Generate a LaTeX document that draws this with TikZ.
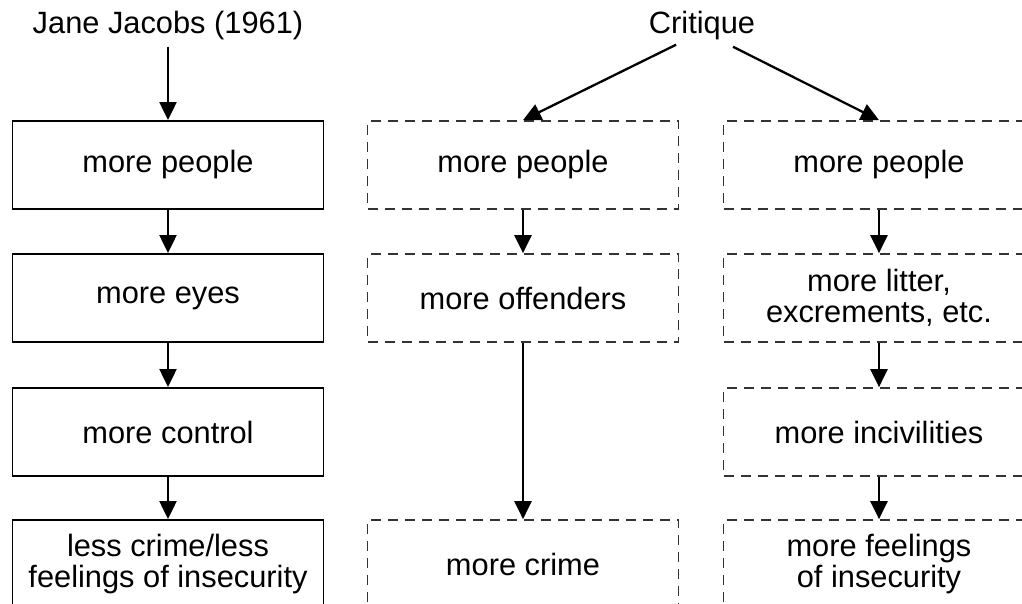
\documentclass[tikz,border=0pt]{standalone}
\usepackage{fontspec}
\setmainfont{Liberation Sans}
\usetikzlibrary{arrows.meta,positioning}

\begin{document}
\begin{tikzpicture}
	[x=0.5pt,y=-0.5pt,
	title/.style={inner sep=1pt,font=\fontsize{15.4}{15.4}\selectfont},
	solidbox/.style={rectangle,draw=black,line width=0.95pt,minimum width=155.5pt,minimum height=44pt,align=center,inner sep=0pt,font=\fontsize{15.4}{15.6}\selectfont},
	dashbox/.style={solidbox,draw=black!80,line width=0.85pt,dash pattern=on 5pt off 3.5pt},
	arr/.style={-{Triangle[length=9pt,width=8.5pt]},line width=1.15pt}]
	\useasboundingbox (0,0) rectangle (1022,604);
	% titles
	\node (jacobs) at (168,26) [title] {Jane Jacobs (1961)};
	\node (critique) at (702,26) [title] {Critique};
	% left column: Jacobs
	\node (jpeople) at (168,165) [solidbox] {more people};
	\node (jeyes) at (168,298) [solidbox] {more eyes};
	\node (jcontrol) at (168,432) [solidbox] {more control};
	\node (jcrime) at (168,564) [solidbox] {less crime/less\\feelings of insecurity};
	% middle column
	\node (mpeople) at (523,165) [dashbox] {more people};
	\node (moffend) at (523,298) [dashbox] {more offenders};
	\node (mcrime) at (523,564) [dashbox] {more crime};
	% right column
	\node (rpeople) at (879,165) [dashbox] {more people};
	\node (rlitter) at (879,298) [dashbox] {more litter,\\excrements, etc.};
	\node (rincivil) at (879,432) [dashbox] {more incivilities};
	\node (rfeel) at (879,564) [dashbox] {more feelings\\of insecurity};
	\coordinate (critL) at ([xshift=-13pt,yshift=-1pt]critique.south);
	\coordinate (critR) at ([xshift=15.5pt,yshift=-2pt]critique.south);
	\draw [arr] ([yshift=-2pt]jacobs.south) -- (jpeople);
	\draw [arr] (jpeople) -- (jeyes);
	\draw [arr] (jeyes) -- (jcontrol);
	\draw [arr] (jcontrol) -- (jcrime);
	\draw [arr] (critL) -- (mpeople.north);
	\draw [arr] (critR) -- (rpeople.north);
	\draw [arr] (mpeople) -- (moffend);
	\draw [arr] (moffend) -- (mcrime);
	\draw [arr] (rpeople) -- (rlitter);
	\draw [arr] (rlitter) -- (rincivil);
	\draw [arr] (rincivil) -- (rfeel);
\end{tikzpicture}
\end{document}
